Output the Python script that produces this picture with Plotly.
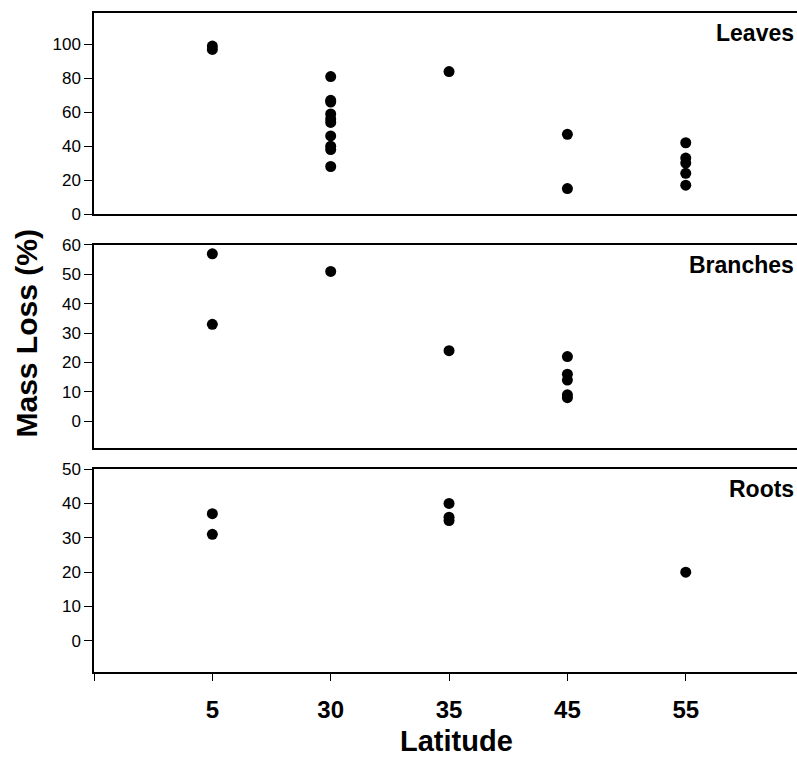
import plotly.graph_objects as go

latitudes = ["5", "30", "35", "45", "55"]

leaves_lat = ["5", "5", "30", "30", "30", "30", "30", "30", "30", "30", "30", "30",
              "35", "45", "45", "55", "55", "55", "55", "55"]
leaves_val = [99, 97, 81, 67, 66, 59, 56, 54, 46, 40, 38, 28,
              84, 47, 15, 42, 33, 30, 24, 17]

branches_lat = ["5", "5", "30", "35", "45", "45", "45", "45", "45"]
branches_val = [57, 33, 51, 24, 22, 16, 14, 9, 8]

roots_lat = ["5", "5", "35", "35", "35", "55"]
roots_val = [37, 31, 40, 36, 35, 20]

panels = [
    ("Leaves", leaves_lat, leaves_val, [0, 118.5], [0, 20, 40, 60, 80, 100]),
    ("Branches", branches_lat, branches_val, [-9.1, 60], [0, 10, 20, 30, 40, 50, 60]),
    ("Roots", roots_lat, roots_val, [-9.05, 50], [0, 10, 20, 30, 40, 50]),
]

# domains (fraction of plot height)
domains = [[0.695, 1.0], [0.340, 0.648], [0.0, 0.308]]

FONT = "Liberation Sans, Arial, sans-serif"

fig = go.Figure()
for i, (name, lats, vals, yr, yt) in enumerate(panels):
    xs = [latitudes.index(l) + 1 for l in lats]
    ax = "" if i == 0 else str(i + 1)
    fig.add_trace(go.Scatter(
        x=xs, y=vals, mode="markers",
        marker=dict(color="black", size=11, line=dict(width=0)),
        xaxis="x" + ax, yaxis="y" + ax, showlegend=False,
    ))
    last = (i == 2)
    fig.layout["xaxis" + ax] = dict(
        domain=[0, 1], range=[0, 5.94], anchor="y" + ax,
        showline=True, mirror=True, linecolor="black", linewidth=1.5,
        showgrid=False, zeroline=False,
        tickmode="array",
        tickvals=[0, 1, 2, 3, 4, 5] if last else [],
        ticktext=[""] + latitudes if last else [],
        ticks="outside" if last else "", ticklen=7, tickwidth=1, tickcolor="black",
        showticklabels=last,
        ticklabelstandoff=8 if last else 0,
        tickfont=dict(family=FONT, size=24, color="black", weight="bold"),
    )
    fig.layout["yaxis" + ax] = dict(
        domain=domains[i], range=yr, anchor="x" + ax,
        showline=True, linecolor="black", linewidth=1.5,
        showgrid=False, zeroline=False,
        tickmode="array", tickvals=yt,
        ticks="outside", ticklen=8, tickwidth=1, tickcolor="black",
        tickfont=dict(family=FONT, size=17, color="black"),
    )
    fig.add_annotation(
        text=name, xref="x" + ax + " domain", yref="y" + ax + " domain",
        x=0.998, y=0.975, xanchor="right", yanchor="top", showarrow=False,
        font=dict(family=FONT, size=23, color="black", weight="bold"),
    )

fig.add_annotation(
    text="Mass Loss (%)", xref="paper", yref="paper", x=-0.0964, y=0.514,
    textangle=-90, showarrow=False, xanchor="center", yanchor="middle",
    font=dict(family=FONT, size=30, color="black", weight="bold"),
)
fig.add_annotation(
    text="Latitude", xref="paper", yref="paper", x=0.516, y=-0.1047,
    showarrow=False, xanchor="center", yanchor="middle",
    font=dict(family=FONT, size=29, color="black", weight="bold"),
)

fig.update_layout(
    width=797, height=758,
    margin=dict(l=94, r=0, t=13, b=86),
    paper_bgcolor="white", plot_bgcolor="white",
)

fig.write_html("out.html")
